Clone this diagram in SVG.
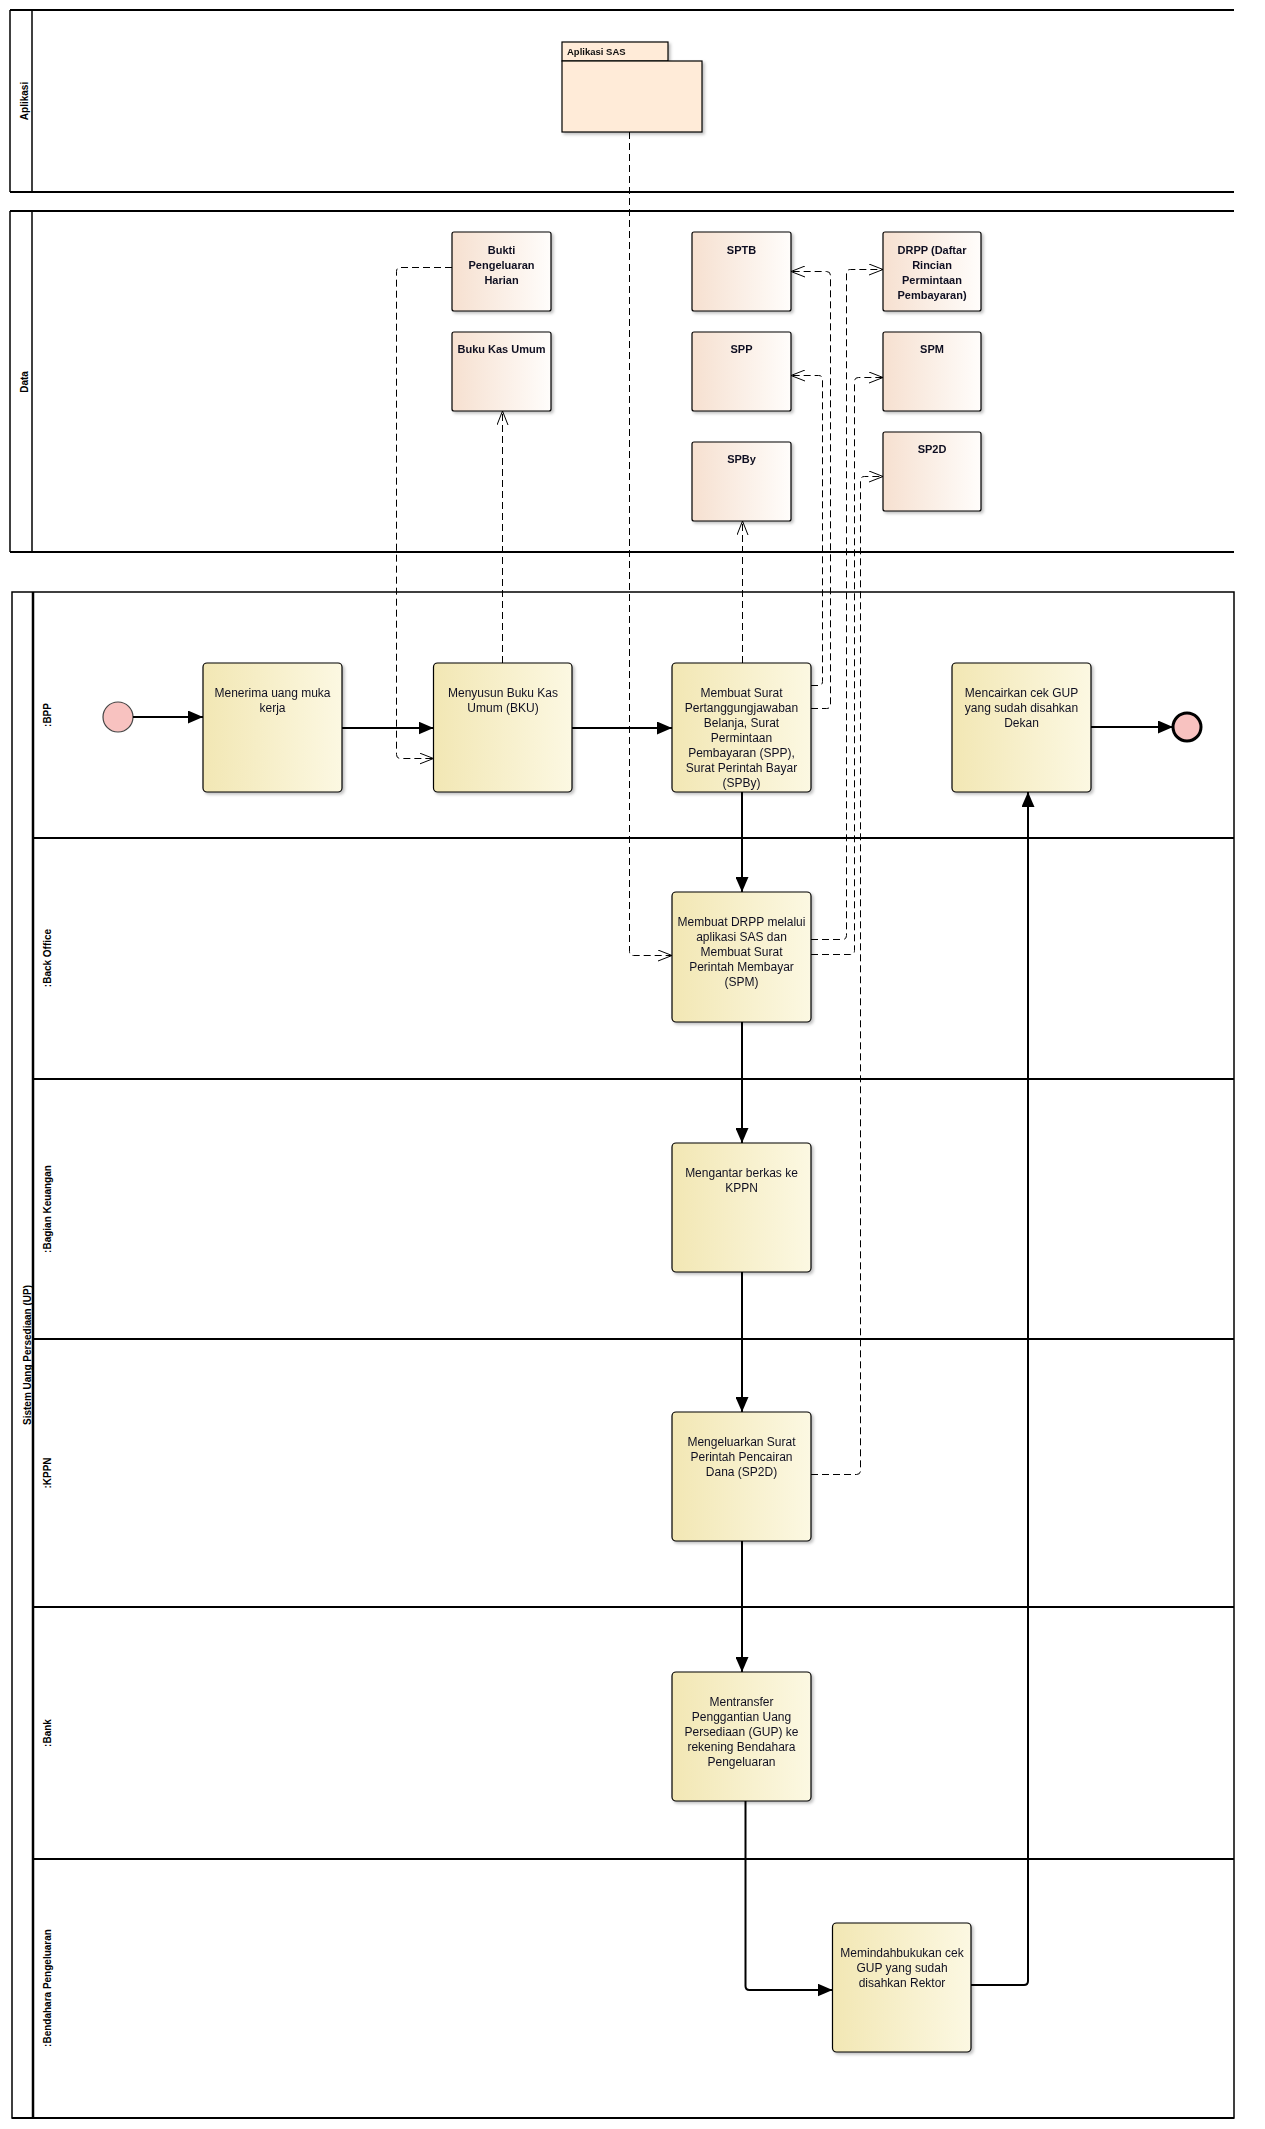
<svg xmlns="http://www.w3.org/2000/svg" width="1265" height="2129" viewBox="0 0 1265 2129">
<style>
.lane{fill:none;stroke:#000;stroke-width:2}
.thin{fill:none;stroke:#000;stroke-width:1.5}
.lbl{font-family:"Liberation Sans",Arial,sans-serif;font-weight:bold;font-size:10px;fill:#000}
.task{fill:url(#gTask);stroke:#000;stroke-width:1.2}
.data{fill:url(#gData);stroke:#000;stroke-width:1.2}
.tt{font-family:"Liberation Sans",Arial,sans-serif;font-size:12px;fill:#111122;text-anchor:middle}
.dt{font-family:"Liberation Sans",Arial,sans-serif;font-size:11px;font-weight:bold;fill:#111122;text-anchor:middle}
.flow{fill:none;stroke:#000;stroke-width:2;marker-end:url(#arrow)}
.dash{fill:none;stroke:#000;stroke-width:1;stroke-dasharray:7,4;marker-end:url(#open)}
</style>
<defs>
<linearGradient id="gTask" x1="0" y1="0" x2="1" y2="0">
<stop offset="0" stop-color="#F2E7B4"/>
<stop offset="1" stop-color="#FCF8E2"/>
</linearGradient>
<linearGradient id="gData" x1="0" y1="0" x2="1" y2="0">
<stop offset="0" stop-color="#F6E0D0"/>
<stop offset="1" stop-color="#FFFDFB"/>
</linearGradient>
<filter id="sh" x="-10%" y="-10%" width="130%" height="130%">
<feDropShadow dx="2" dy="2" stdDeviation="1.5" flood-color="#000" flood-opacity="0.25"/>
</filter>
<marker id="arrow" markerUnits="userSpaceOnUse" markerWidth="16" markerHeight="13" refX="15" refY="6.5" orient="auto">
<path d="M0,0 L15,6.5 L0,13 z" fill="#000"/>
</marker>
<marker id="open" markerUnits="userSpaceOnUse" markerWidth="16" markerHeight="12" refX="14" refY="6" orient="auto">
<path d="M0,0.5 L14,6 L0,11.5" fill="none" stroke="#000" stroke-width="1"/>
</marker>
</defs>
<rect width="1265" height="2129" fill="#fff"/>

<!-- Aplikasi lane -->
<g id="lane-aplikasi">
<line class="lane" x1="10" y1="10" x2="1234" y2="10"/>
<line class="lane" x1="10" y1="192" x2="1234" y2="192"/>
<line class="thin" x1="10" y1="10" x2="10" y2="192"/>
<line class="thin" x1="32" y1="10" x2="32" y2="192"/>
<text class="lbl" transform="translate(28,101) rotate(-90)" text-anchor="middle">Aplikasi</text>
</g>

<!-- Data lane -->
<g id="lane-data">
<line class="lane" x1="10" y1="211" x2="1234" y2="211"/>
<line class="lane" x1="10" y1="552" x2="1234" y2="552"/>
<line class="thin" x1="10" y1="211" x2="10" y2="552"/>
<line class="thin" x1="32" y1="211" x2="32" y2="552"/>
<text class="lbl" transform="translate(28,382) rotate(-90)" text-anchor="middle">Data</text>
</g>

<!-- Pool -->
<g id="pool">
<rect x="12" y="592" width="1222" height="1526" fill="none" stroke="#000" stroke-width="1.5"/>
<line x1="33" y1="592" x2="33" y2="2118" stroke="#000" stroke-width="2.5"/>
<line class="lane" x1="33" y1="838" x2="1234" y2="838"/>
<line class="lane" x1="33" y1="1079" x2="1234" y2="1079"/>
<line class="lane" x1="33" y1="1339" x2="1234" y2="1339"/>
<line class="lane" x1="33" y1="1607" x2="1234" y2="1607"/>
<line class="lane" x1="33" y1="1859" x2="1234" y2="1859"/>
<line class="lane" x1="12" y1="2118" x2="1234" y2="2118"/>
<text class="lbl" transform="translate(31,1355) rotate(-90)" text-anchor="middle">Sistem Uang Persediaan (UP)</text>
<text class="lbl" transform="translate(51,715) rotate(-90)" text-anchor="middle">:BPP</text>
<text class="lbl" transform="translate(51,958) rotate(-90)" text-anchor="middle">:Back Office</text>
<text class="lbl" transform="translate(51,1209) rotate(-90)" text-anchor="middle">:Bagian Keuangan</text>
<text class="lbl" transform="translate(51,1473) rotate(-90)" text-anchor="middle">:KPPN</text>
<text class="lbl" transform="translate(51,1733) rotate(-90)" text-anchor="middle">:Bank</text>
<text class="lbl" transform="translate(51,1988) rotate(-90)" text-anchor="middle">:Bendahara Pengeluaran</text>
</g>

<!-- Aplikasi SAS package -->
<g id="aplikasi-sas" filter="url(#sh)">
<rect x="562" y="42" width="106" height="19" fill="#FFEBD8" stroke="#000" stroke-width="1.2"/>
<rect x="562" y="61" width="140" height="71" fill="#FFEBD8" stroke="#000" stroke-width="1.2"/>
<text x="567" y="55" font-family="'Liberation Sans',Arial,sans-serif" font-size="9.5" font-weight="bold" fill="#111">Aplikasi SAS</text>
</g>

<!-- Data nodes -->
<g id="bukti" filter="url(#sh)">
<rect class="data" x="452" y="232" width="99" height="79" rx="2"/>
<text class="dt" x="501.5" y="254">Bukti</text>
<text class="dt" x="501.5" y="269">Pengeluaran</text>
<text class="dt" x="501.5" y="284">Harian</text>
</g>
<g id="bku" filter="url(#sh)">
<rect class="data" x="452" y="332" width="99" height="79" rx="2"/>
<text class="dt" x="501.5" y="353">Buku Kas Umum</text>
</g>
<g id="sptb" filter="url(#sh)">
<rect class="data" x="692" y="232" width="99" height="79" rx="2"/>
<text class="dt" x="741.5" y="254">SPTB</text>
</g>
<g id="spp" filter="url(#sh)">
<rect class="data" x="692" y="332" width="99" height="79" rx="2"/>
<text class="dt" x="741.5" y="353">SPP</text>
</g>
<g id="spby" filter="url(#sh)">
<rect class="data" x="692" y="442" width="99" height="79" rx="2"/>
<text class="dt" x="741.5" y="463">SPBy</text>
</g>
<g id="drpp" filter="url(#sh)">
<rect class="data" x="883" y="232" width="98" height="79" rx="2"/>
<text class="dt" x="932" y="254">DRPP (Daftar</text>
<text class="dt" x="932" y="269">Rincian</text>
<text class="dt" x="932" y="284">Permintaan</text>
<text class="dt" x="932" y="299">Pembayaran)</text>
</g>
<g id="spm" filter="url(#sh)">
<rect class="data" x="883" y="332" width="98" height="79" rx="2"/>
<text class="dt" x="932" y="353">SPM</text>
</g>
<g id="sp2d" filter="url(#sh)">
<rect class="data" x="883" y="432" width="98" height="79" rx="2"/>
<text class="dt" x="932" y="453">SP2D</text>
</g>

<!-- Events -->
<g id="start">
<circle cx="118" cy="717" r="15" fill="#F8C2C0" stroke="#444" stroke-width="1.2"/>
</g>
<g id="end">
<circle cx="1187" cy="727" r="14" fill="#F8C2C0" stroke="#000" stroke-width="3"/>
</g>

<!-- Tasks -->
<g id="t1" filter="url(#sh)">
<rect class="task" x="203" y="663" width="139" height="129" rx="4"/>
<text class="tt" x="272.5" y="697">Menerima uang muka</text>
<text class="tt" x="272.5" y="712">kerja</text>
</g>
<g id="t2" filter="url(#sh)">
<rect class="task" x="433.5" y="663" width="138.5" height="129" rx="4"/>
<text class="tt" x="503" y="697">Menyusun Buku Kas</text>
<text class="tt" x="503" y="712">Umum (BKU)</text>
</g>
<g id="t3" filter="url(#sh)">
<rect class="task" x="672" y="663" width="139" height="129" rx="4"/>
<text class="tt" x="741.5" y="697">Membuat Surat</text>
<text class="tt" x="741.5" y="712">Pertanggungjawaban</text>
<text class="tt" x="741.5" y="727">Belanja, Surat</text>
<text class="tt" x="741.5" y="742">Permintaan</text>
<text class="tt" x="741.5" y="757">Pembayaran (SPP),</text>
<text class="tt" x="741.5" y="772">Surat Perintah Bayar</text>
<text class="tt" x="741.5" y="787">(SPBy)</text>
</g>
<g id="t9" filter="url(#sh)">
<rect class="task" x="952" y="663" width="139" height="129" rx="4"/>
<text class="tt" x="1021.5" y="697">Mencairkan cek GUP</text>
<text class="tt" x="1021.5" y="712">yang sudah disahkan</text>
<text class="tt" x="1021.5" y="727">Dekan</text>
</g>
<g id="t4" filter="url(#sh)">
<rect class="task" x="672" y="892" width="139" height="130" rx="4"/>
<text class="tt" x="741.5" y="926">Membuat DRPP melalui</text>
<text class="tt" x="741.5" y="941">aplikasi SAS dan</text>
<text class="tt" x="741.5" y="956">Membuat Surat</text>
<text class="tt" x="741.5" y="971">Perintah Membayar</text>
<text class="tt" x="741.5" y="986">(SPM)</text>
</g>
<g id="t5" filter="url(#sh)">
<rect class="task" x="672" y="1143" width="139" height="129" rx="4"/>
<text class="tt" x="741.5" y="1177">Mengantar berkas ke</text>
<text class="tt" x="741.5" y="1192">KPPN</text>
</g>
<g id="t6" filter="url(#sh)">
<rect class="task" x="672" y="1412" width="139" height="129" rx="4"/>
<text class="tt" x="741.5" y="1446">Mengeluarkan Surat</text>
<text class="tt" x="741.5" y="1461">Perintah Pencairan</text>
<text class="tt" x="741.5" y="1476">Dana (SP2D)</text>
</g>
<g id="t7" filter="url(#sh)">
<rect class="task" x="672" y="1672" width="139" height="129" rx="4"/>
<text class="tt" x="741.5" y="1706">Mentransfer</text>
<text class="tt" x="741.5" y="1721">Penggantian Uang</text>
<text class="tt" x="741.5" y="1736">Persediaan (GUP) ke</text>
<text class="tt" x="741.5" y="1751">rekening Bendahara</text>
<text class="tt" x="741.5" y="1766">Pengeluaran</text>
</g>
<g id="t8" filter="url(#sh)">
<rect class="task" x="832.5" y="1923" width="138.5" height="129" rx="4"/>
<text class="tt" x="902" y="1957">Memindahbukukan cek</text>
<text class="tt" x="902" y="1972">GUP yang sudah</text>
<text class="tt" x="902" y="1987">disahkan Rektor</text>
</g>

<!-- Connectors -->
<g id="connectors">
<path class="flow" d="M133,717 L203,717"/>
<path class="flow" d="M342,728 L433.5,728"/>
<path class="flow" d="M572,728 L672,728"/>
<path class="flow" d="M742,792 L742,892"/>
<path class="flow" d="M742,1022 L742,1143"/>
<path class="flow" d="M742,1272 L742,1412"/>
<path class="flow" d="M742,1541 L742,1672"/>
<path class="flow" d="M745.5,1801 L745.5,1986 Q745.5,1990 749.5,1990 L832.5,1990"/>
<path class="flow" d="M971,1985 L1024,1985 Q1028,1985 1028,1981 L1028,792"/>
<path class="flow" d="M1091,727 L1173,727"/>

<path class="dash" d="M452,267.5 L400.5,267.5 Q396.5,267.5 396.5,271.5 L396.5,754.5 Q396.5,758.5 400.5,758.5 L433.5,758.5"/>
<path class="dash" d="M502.5,663 L502.5,411"/>
<path class="dash" d="M742.5,663 L742.5,521"/>
<path class="dash" d="M811,685.5 L818.5,685.5 Q822.5,685.5 822.5,681.5 L822.5,379.5 Q822.5,375.5 818.5,375.5 L791,375.5"/>
<path class="dash" d="M811,708.5 L826.5,708.5 Q830.5,708.5 830.5,704.5 L830.5,275.5 Q830.5,271.5 826.5,271.5 L791,271.5"/>
<path class="dash" d="M811,939.5 L842.5,939.5 Q846.5,939.5 846.5,935.5 L846.5,273.5 Q846.5,269.5 850.5,269.5 L883,269.5"/>
<path class="dash" d="M811,954.5 L850.5,954.5 Q854.5,954.5 854.5,950.5 L854.5,381.5 Q854.5,377.5 858.5,377.5 L883,377.5"/>
<path class="dash" d="M811,1474.5 L856.5,1474.5 Q860.5,1474.5 860.5,1470.5 L860.5,480.5 Q860.5,476.5 864.5,476.5 L883,476.5"/>
<path class="dash" d="M629.5,132 L629.5,951.5 Q629.5,955.5 633.5,955.5 L672,955.5"/>
</g>
</svg>
